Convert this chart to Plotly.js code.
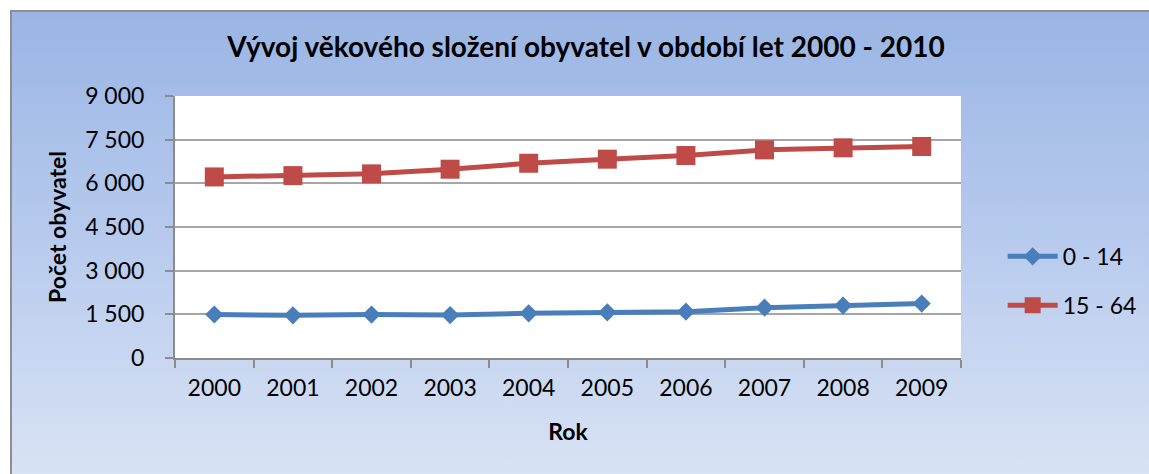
<!DOCTYPE html>
<html>
<head>
<meta charset="utf-8">
<script src="https://cdn.plot.ly/plotly-3.0.1.min.js"></script>
<style>
  html, body { margin: 0; padding: 0; background: #ffffff; overflow: hidden; }
  #bg { position: absolute; left: 10px; top: 10px; width: 1200px; height: 520px;
        border: 2px solid #8e8e8e; box-sizing: border-box;
        background: linear-gradient(to bottom, #9ab5e4 0%, #b8cbee 45%, #e0e8f5 100%); }
  #chart { position: absolute; left: 0; top: 0; width: 1149px; height: 474px; }
</style>
</head>
<body>
<div id="bg"></div>
<div id="chart"></div>
<script>
const years = ['2000','2001','2002','2003','2004','2005','2006','2007','2008','2009'];
const age0_14 = [1495, 1465, 1490, 1475, 1535, 1570, 1590, 1730, 1800, 1870];
const age15_64 = [6220, 6265, 6325, 6485, 6690, 6830, 6955, 7150, 7220, 7265];
const yTickVals = [0, 1500, 3000, 4500, 6000, 7500, 9000];
const yTickText = ['0', '1 500', '3 000', '4 500', '6 000', '7 500', '9 000'];
const seriesNames = ['0 - 14', '15 - 64'];

const FONT = 'Lato, "Open Sans", sans-serif';

const traces = [
  { x: years, y: age0_14, name: seriesNames[0], type: 'scatter', mode: 'lines+markers',
    legendgroup: 'a',
    line: { color: '#4a7ebb', width: 5 },
    marker: { symbol: 'diamond', size: 14, color: '#4a7ebb' } },
  { x: years, y: age15_64, name: seriesNames[1], type: 'scatter', mode: 'lines+markers',
    legendgroup: 'b',
    line: { color: '#be4b48', width: 5 },
    marker: { symbol: 'square', size: 19, color: '#be4b48' } }
];

const layout = {
  width: 1149, height: 474,
  paper_bgcolor: 'rgba(0,0,0,0)',
  plot_bgcolor: '#ffffff',
  margin: { l: 175, r: 188, t: 96, b: 116, autoexpand: false },
  font: { family: FONT, size: 23, color: '#000000' },
  title: { text: '<b>Vývoj věkového složení obyvatel v období let 2000 - 2010</b>',
           font: { family: FONT, size: 28, color: '#000000' },
           x: 0.51, xanchor: 'center', y: 0.9, yanchor: 'middle' },
  xaxis: {
    type: 'category', range: [-0.5, 9.5],
    title: { text: '<b>Rok</b>', font: { size: 23 }, standoff: 24 },
    showgrid: false, showline: true, linecolor: '#8c8c8c', linewidth: 2,
    ticks: 'outside', tickson: 'boundaries', ticklen: 8, tickcolor: '#8c8c8c', tickwidth: 2,
    tickfont: { size: 23 }, ticklabelstandoff: 8
  },
  yaxis: {
    range: [0, 9000],
    tickvals: yTickVals, ticktext: yTickText,
    title: { text: '<b>Počet obyvatel</b>', font: { size: 23 }, standoff: 12 },
    showgrid: true, gridcolor: '#a6a6a6', gridwidth: 2,
    showline: true, linecolor: '#8c8c8c', linewidth: 2,
    ticks: 'outside', ticklen: 8, tickcolor: '#8c8c8c', tickwidth: 2,
    tickfont: { size: 23 }, zeroline: false, ticklabelstandoff: 16
  },
  legend: {
    x: 1.053, xanchor: 'left', y: 0.47, yanchor: 'top',
    bgcolor: 'rgba(0,0,0,0)', font: { size: 23 },
    traceorder: 'grouped', tracegroupgap: 16, itemwidth: 50
  },
  showlegend: true
};

Plotly.newPlot('chart', traces, layout, { displayModeBar: false, staticPlot: true });
</script>
</body>
</html>
